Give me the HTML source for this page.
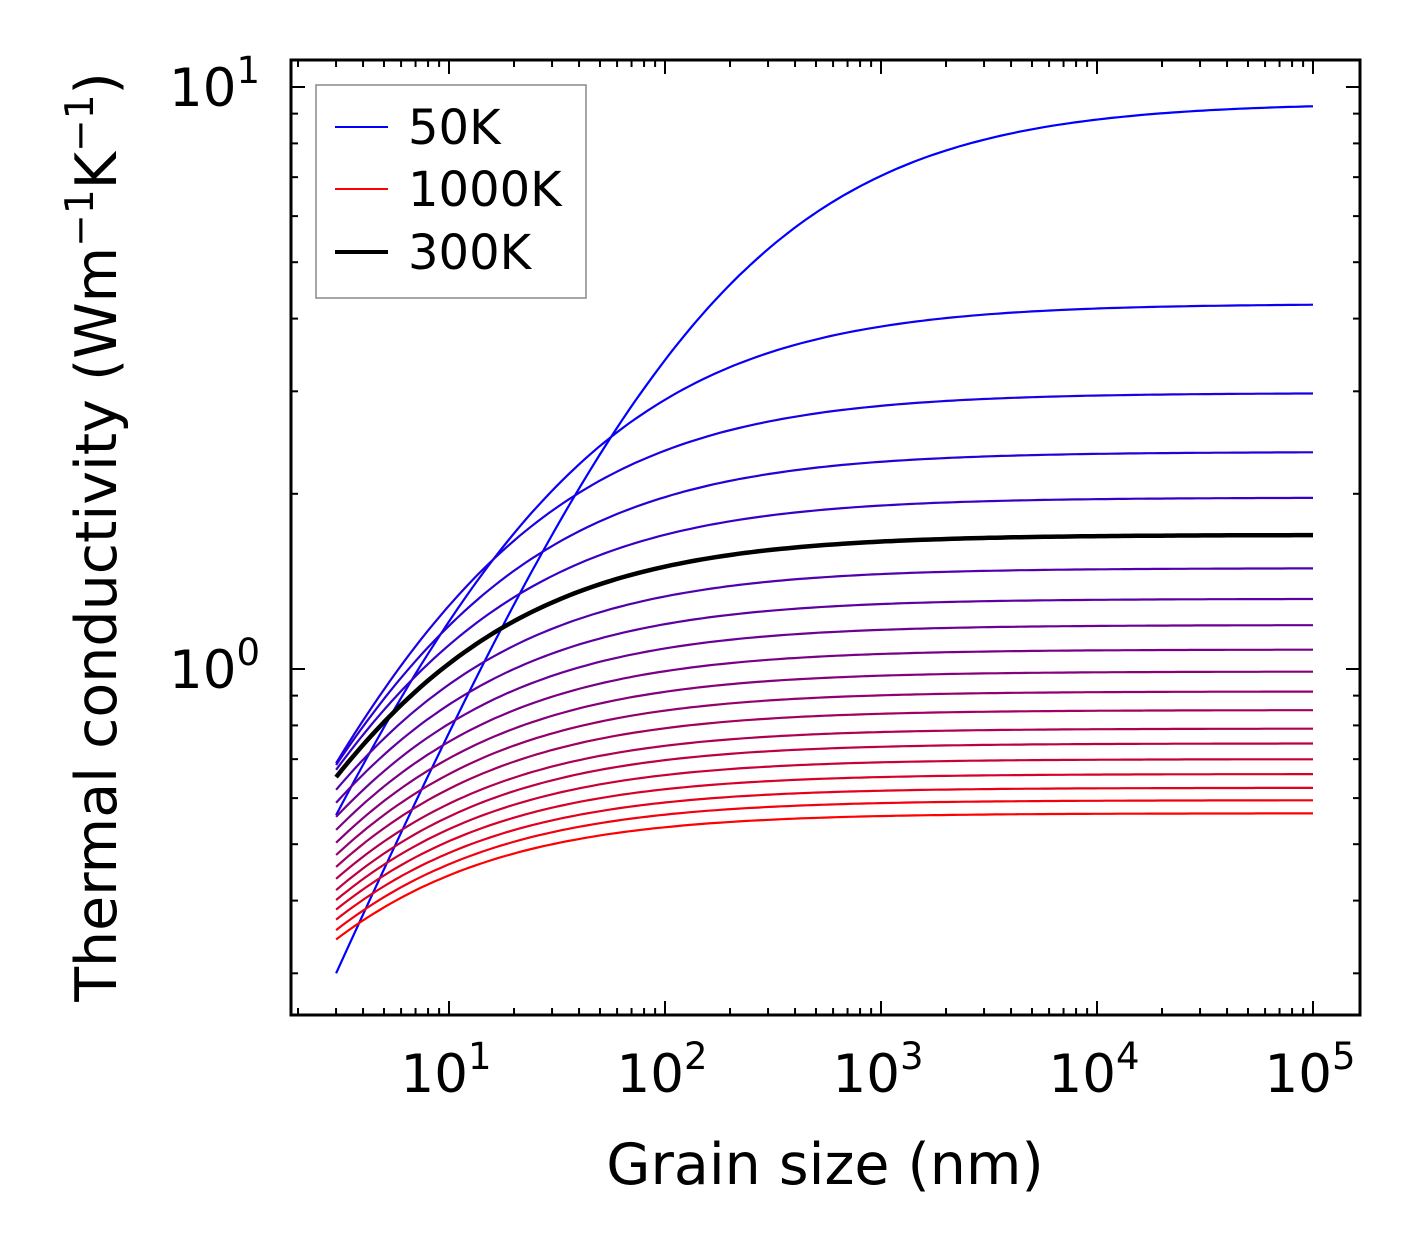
<!DOCTYPE html>
<html><head><meta charset="utf-8"><style>
body{margin:0;background:#fff}
svg{display:block;font-family:"DejaVu Sans","Liberation Sans",sans-serif}
</style></head><body>
<svg id="chart" width="1421" height="1254" viewBox="0 0 1421 1254" xmlns="http://www.w3.org/2000/svg">
<rect width="1421" height="1254" fill="#fff"/>
<g id="curves"></g>
<g id="ticks"></g>
<rect x="291" y="60" width="1069" height="955" fill="none" stroke="#000" stroke-width="3"/>
<text x="825" y="1184" font-size="57" text-anchor="middle">Grain size (nm)</text>
<text transform="translate(116,537) rotate(-90)" font-size="57" text-anchor="middle">Thermal conductivity (Wm<tspan dy="-23" font-size="39">−1</tspan><tspan dy="23">K</tspan><tspan dy="-23" font-size="39">−1</tspan><tspan dy="23">)</tspan></text>
<g>
<rect x="316" y="85" width="270" height="213" fill="#fff" stroke="#888" stroke-width="1.5"/>
<line x1="335" y1="127" x2="388" y2="127" stroke="#0000ff" stroke-width="2"/>
<text x="408" y="144" font-size="48">50K</text>
<line x1="335" y1="189" x2="388" y2="189" stroke="#ff0000" stroke-width="2"/>
<text x="408" y="206" font-size="48">1000K</text>
<line x1="335" y1="252" x2="388" y2="252" stroke="#000" stroke-width="4"/>
<text x="408" y="269" font-size="48">300K</text>
</g>
</svg>
<script>
const temperatures=[50,100,150,200,250,300,350,400,450,500,550,600,650,700,750,800,850,900,950,1000];
const kAt3nm=[0.30,0.561,0.689,0.684,0.671,0.652,0.620,0.589,0.557,0.529,0.503,0.479,0.457,0.436,0.417,0.401,0.386,0.371,0.356,0.343];
const kBulk=[9.39,4.24,2.98,2.36,1.97,1.70,1.49,1.32,1.19,1.08,0.99,0.915,0.85,0.79,0.745,0.70,0.66,0.625,0.595,0.565];
const yTickVals=[1,10];
const xTickExps=[1,2,3,4,5];
const NS="http://www.w3.org/2000/svg";
const X=v=>449+216*(Math.log10(v)-1);
const Y=v=>669-582*Math.log10(v);
const cg=document.getElementById('curves'),tg=document.getElementById('ticks'),svg=document.getElementById('chart');
function mk(t,a,p){const e=document.createElementNS(NS,t);for(const k in a)e.setAttribute(k,a[k]);p.appendChild(e);return e;}
const shape=x=>{x=Math.pow(x,0.85);return 1-Math.log(1+x)/x;};
function solveL0(r){let lo=1e-4,hi=1e5;for(let n=0;n<90;n++){const m=Math.sqrt(lo*hi);if(shape(3/m)>r)lo=m;else hi=m;}return Math.sqrt(lo*hi);}
const order=temperatures.map((t,i)=>i).filter(i=>temperatures[i]!==300).concat([5]);
order.forEach(i=>{
  const ki=kBulk[i],L0=solveL0(kAt3nm[i]/ki);let d='';
  for(let j=0;j<=160;j++){const L=3*Math.pow(1e5/3,j/160);const k=ki*shape(L/L0);d+=(j?'L':'M')+X(L).toFixed(1)+','+Y(k).toFixed(1);}
  const f=i/19,black=temperatures[i]===300;
  const p=mk('path',{d:d,fill:'none','stroke-width':black?4.5:2.2,stroke:black?'#000':`rgb(${Math.round(255*f)},0,${Math.round(255*(1-f))})`},cg);
  
  
});
for(let e=0;e<=5;e++)for(let m=1;m<10;m++){const v=m*Math.pow(10,e);const x=X(v);if(x<292||x>1359)continue;const len=m===1?14:7;
  mk('line',{x1:x,y1:1015,x2:x,y2:1015-len,stroke:'#000','stroke-width':2},tg);mk('line',{x1:x,y1:60,x2:x,y2:60+len,stroke:'#000','stroke-width':2},tg);}
xTickExps.forEach(e=>{const t=mk('text',{x:X(Math.pow(10,e))-3,y:1092,'font-size':53,'text-anchor':'middle'},svg);
  
  t.innerHTML='10<tspan dy="-23" font-size="37">'+e+'</tspan>';});
for(let e=-1;e<=1;e++)for(let m=1;m<10;m++){const v=m*Math.pow(10,e);const y=Y(v);if(y<61||y>1014)continue;const len=m===1?14:7;
  mk('line',{x1:291,y1:y,x2:291+len,y2:y,stroke:'#000','stroke-width':2},tg);mk('line',{x1:1360,y1:y,x2:1360-len,y2:y,stroke:'#000','stroke-width':2},tg);}
yTickVals.forEach(v=>{const t=mk('text',{x:260,y:Y(v)+19,'font-size':53,'text-anchor':'end'},svg);
  
  t.innerHTML='10<tspan dy="-23" font-size="37">'+Math.round(Math.log10(v))+'</tspan>';});
</script>
</body></html>
